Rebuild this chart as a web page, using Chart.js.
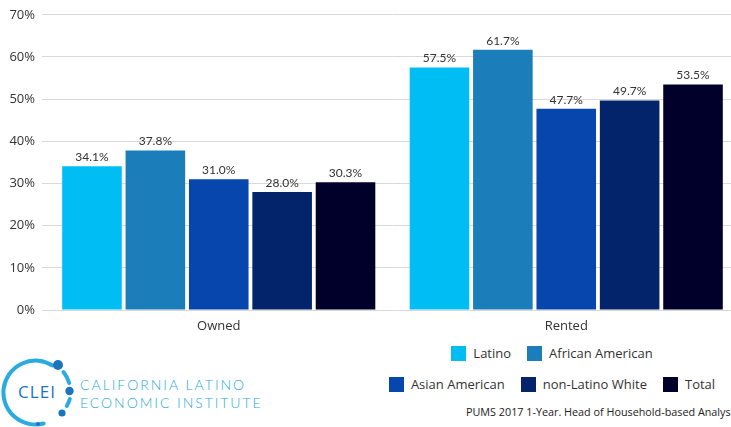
<!DOCTYPE html>
<html>
<head>
<meta charset="utf-8">
<script src="https://cdn.jsdelivr.net/npm/chart.js@4.4.1/dist/chart.umd.min.js"></script>
<style>
  html, body { margin: 0; padding: 0; background: #fff; overflow: hidden; width: 731px; height: 427px; }
  #wrap { position: relative; width: 731px; height: 427px; overflow: hidden; }
  #chart { position: absolute; left: 0; top: 0; }
  #legend { position: absolute; left: 380px; top: 344px; width: 344px; font-family: "Open Sans", sans-serif; font-size: 13px; color: #333; }
  .row { display: flex; justify-content: center; height: 31px; align-items: flex-start; }
  .item { display: flex; align-items: center; margin: 0 8px; white-space: nowrap; }
  .box { width: 15px; height: 15px; margin-right: 7px; }
  #source { position: absolute; left: 466px; top: 404px; white-space: nowrap; font-family: "Open Sans", sans-serif; font-size: 10.8px; color: #222; }
  #logo { position: absolute; left: 0; top: 340px; }
</style>
</head>
<body>
<div id="wrap">
  <canvas id="chart" width="740" height="340"></canvas>
  <div id="legend"></div>
  <div id="source">PUMS 2017 1-Year. Head of Household-based Analysis</div>
  <svg id="logo" width="280" height="87" viewBox="0 340 280 87">
    <g fill="none" stroke="#29abe2" stroke-width="4" stroke-linecap="round">
      <path d="M 52.5 365.5 A 32 32 0 1 0 43.6 423.5"/>
      <path d="M 63.5 372 A 32 32 0 0 1 69.2 383"/>
      <path d="M 69.8 399 A 32 32 0 0 1 66.8 406"/>
    </g>
    <g fill="#1c75bc">
      <circle cx="58" cy="365" r="5"/>
      <circle cx="69.5" cy="391" r="4.2"/>
      <circle cx="62" cy="413" r="3.6"/>
      <circle cx="38" cy="424" r="2"/>
    </g>
    <text x="37" y="398" text-anchor="middle" font-family="Open Sans, sans-serif" font-size="17" fill="#1c75bc" letter-spacing="1">CLEI</text>
    <text x="80" y="390" font-family="Lato, sans-serif" font-weight="300" font-size="14" fill="#29a9e0" letter-spacing="2.0">CALIFORNIA LATINO</text>
    <text x="80" y="408" font-family="Lato, sans-serif" font-weight="300" font-size="14" fill="#29a9e0" letter-spacing="1.95">ECONOMIC INSTITUTE</text>
  </svg>
</div>
<script>
// data
const categories = ["Owned", "Rented"];
const groups = ["Latino", "African American", "Asian American", "non-Latino White", "Total"];
const latino = [34.1, 57.5];
const africanAmerican = [37.8, 61.7];
const asianAmerican = [31.0, 47.7];
const nonLatinoWhite = [28.0, 49.7];
const total = [30.3, 53.5];
const yTicks = [0, 10, 20, 30, 40, 50, 60, 70];

const colors = ["#00bef4", "#1c7dbb", "#0746ad", "#03246b", "#00002b"];
const seriesValues = [latino, africanAmerican, asianAmerican, nonLatinoWhite, total];

// labels above bars
const valueLabels = {
  id: "valueLabels",
  afterDatasetsDraw(chart) {
    const ctx = chart.ctx;
    ctx.save();
    ctx.font = "12px Lato";
    ctx.fillStyle = "#333";
    ctx.textAlign = "center";
    ctx.textBaseline = "bottom";
    chart.data.datasets.forEach((ds, i) => {
      chart.getDatasetMeta(i).data.forEach((bar, j) => {
        ctx.fillText(ds.data[j].toFixed(1) + "%", bar.x, bar.y - 3);
      });
    });
    ctx.restore();
  }
};

const chart = new Chart(document.getElementById("chart"), {
  type: "bar",
  data: {
    labels: categories,
    datasets: groups.map((g, i) => ({
      label: g,
      data: seriesValues[i],
      backgroundColor: colors[i],
      borderWidth: 0,
      categoryPercentage: 0.912,
      barPercentage: 0.94
    }))
  },
  options: {
    responsive: false,
    animation: false,
    layout: { padding: { top: 14, left: 0, right: 0, bottom: 0 } },
    plugins: {
      legend: { display: false },
      tooltip: { enabled: false }
    },
    scales: {
      x: {
        grid: { display: false },
        border: { display: false },
        ticks: { color: "#333", font: { family: "Open Sans", size: 13 }, padding: 0 },
        afterFit: (s) => { s.height = 30; }
      },
      y: {
        min: 0,
        max: 70,
        afterBuildTicks: (s) => { s.ticks = yTicks.map(v => ({ value: v })); },
        grid: { color: "#d9d9d9", lineWidth: 1, drawTicks: true, tickLength: 3 },
        border: { display: false },
        ticks: {
          color: "#333",
          padding: 7,
          font: { family: "Open Sans", size: 13 },
          callback: (v) => v + "%"
        },
        afterFit: (s) => { s.width = 45; }
      }
    }
  },
  plugins: [valueLabels]
});

// legend from chart datasets, 2 + 3 rows
const legend = document.getElementById("legend");
const rows = [[0, 1], [2, 3, 4]];
rows.forEach(r => {
  const row = document.createElement("div");
  row.className = "row";
  r.forEach(i => {
    const ds = chart.data.datasets[i];
    const item = document.createElement("div");
    item.className = "item";
    item.innerHTML = `<span class="box" style="background:${ds.backgroundColor}"></span><span>${ds.label}</span>`;
    row.appendChild(item);
  });
  legend.appendChild(row);
});
</script>
</body>
</html>
